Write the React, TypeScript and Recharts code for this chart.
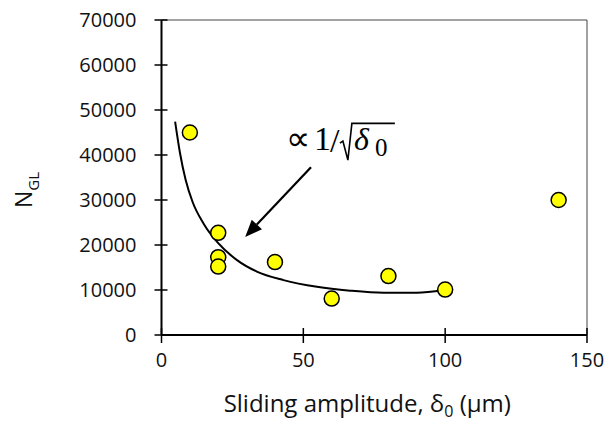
import {
  ComposedChart,
  Scatter,
  Line,
  XAxis,
  YAxis,
  ReferenceLine,
  ReferenceDot,
} from 'recharts';

// measured points
const AMPLITUDE = [10, 20, 20, 20, 40, 60, 80, 100, 140];
const CYCLES = [45000, 22700, 17300, 15200, 16200, 8100, 13100, 10100, 30000];

// fitted curve
const FIT_X = [4.8, 6.5, 8.5, 11, 14.8, 20, 26.5, 33.6, 43, 54.8, 66.5, 78.3, 90, 99.5];
const FIT_Y = [47400, 40500, 34500, 29500, 24800, 20400, 16700, 14100, 12200, 10700, 9850, 9400, 9400, 10000];

const X_TICKS = [0, 50, 100, 150];
const Y_TICKS = [0, 10000, 20000, 30000, 40000, 50000, 60000, 70000];

const points = AMPLITUDE.map((x, i) => ({ x, y: CYCLES[i] }));
const fit = FIT_X.map((x, i) => ({ x, y: FIT_Y[i] }));

const FONT = '"Open Sans", sans-serif';

const YTick = (props: any) => {
  const { x, y, payload } = props;
  return (
    <g>
      <line x1={x - 7} x2={x + 6} y1={y} y2={y} stroke="#000" strokeWidth={1.5} />
      <text x={x - 25} y={y + 7} textAnchor="end" fontFamily={FONT} fontSize={20} fill="#111">
        {payload.value}
      </text>
    </g>
  );
};

const XTick = (props: any) => {
  const { x, y, payload } = props;
  return (
    <g>
      <line x1={x} x2={x} y1={y - 7} y2={y + 8} stroke="#000" strokeWidth={1.5} />
      <text x={x} y={y + 32} textAnchor="middle" fontFamily={FONT} fontSize={20} fill="#111">
        {payload.value}
      </text>
    </g>
  );
};

const Dot = (props: any) => (
  <circle cx={props.cx} cy={props.cy} r={7.5} fill="#FFFF00" stroke="#000" strokeWidth={1.5} />
);

const Arrow = (props: any) => {
  const { x1, y1, x2, y2 } = props;
  const ang = Math.atan2(y2 - y1, x2 - x1);
  const len = 17;
  const half = 7;
  const bx = x2 - len * Math.cos(ang);
  const by = y2 - len * Math.sin(ang);
  const px = -Math.sin(ang) * half;
  const py = Math.cos(ang) * half;
  return (
    <g>
      <line x1={x1} y1={y1} x2={bx} y2={by} stroke="#000" strokeWidth={2.2} />
      <polygon points={`${x2},${y2} ${bx + px},${by + py} ${bx - px},${by - py}`} fill="#000" />
    </g>
  );
};

const Formula = (props: any) => {
  const { cx, cy } = props;
  const f = '"Liberation Serif", serif';
  return (
    <g fill="#000" fontFamily={f}>
      <text x={cx - 1} y={cy} fontSize={34}>∝</text>
      <text x={cx + 27} y={cy} fontSize={34}>1</text>
      <text x={cx + 43} y={cy + 2} fontSize={34}>/</text>
      <path
        d={`M ${cx + 53} ${cy - 7} L ${cx + 56} ${cy - 9} L ${cx + 61} ${cy + 10} L ${cx + 65} ${cy - 26.7} L ${cx + 108} ${cy - 26.7}`}
        fill="none"
        stroke="#000"
        strokeWidth={1.6}
      />
      <text x={cx + 67} y={cy} fontSize={32} fontStyle="italic">δ</text>
      <text x={cx + 88} y={cy + 6} fontSize={25}>0</text>
    </g>
  );
};

export default function App() {
  return (
    <div style={{ position: 'absolute', left: 0, top: 0, background: '#fff' }}>
      <ComposedChart
        width={608}
        height={428}
        margin={{ top: 20, right: 21, bottom: 33, left: 0 }}
      >
        <XAxis
          dataKey="x"
          type="number"
          domain={[0, 150]}
          ticks={X_TICKS}
          tickSize={0}
          tickMargin={0}
          tick={<XTick />}
          height={60}
          axisLine={{ stroke: '#000', strokeWidth: 2 }}
          allowDataOverflow
          label={{
            content: (p: any) => {
              const vb = p.viewBox;
              return (
                <text
                  x={vb.x + vb.width / 2 - 7}
                  y={vb.y + 77}
                  textAnchor="middle"
                  fontFamily={FONT}
                  fontSize={24}
                  fill="#111"
                >
                  Sliding amplitude, δ<tspan fontSize={16} dy={5}>0</tspan>
                  <tspan dy={-5}> (μm)</tspan>
                </text>
              );
            },
          }}
        />
        <YAxis
          dataKey="y"
          type="number"
          domain={[0, 70000]}
          ticks={Y_TICKS}
          tickSize={0}
          tickMargin={0}
          tick={<YTick />}
          width={161.5}
          axisLine={{ stroke: '#000', strokeWidth: 2 }}
          allowDataOverflow
          label={{
            content: () => (
              <text
                x={32}
                y={190}
                transform="rotate(-90, 32, 190)"
                textAnchor="middle"
                fontFamily={FONT}
                fontSize={23}
                fill="#111"
              >
                N<tspan fontSize={15} dy={7}>GL</tspan>
              </text>
            ),
          }}
        />
        <ReferenceLine y={70000} stroke="#444" strokeWidth={1} />
        <ReferenceLine x={150} stroke="#444" strokeWidth={1} />
        <Scatter data={points} shape={<Dot />} isAnimationActive={false} />
        <Line
          data={fit}
          dataKey="y"
          type="monotone"
          stroke="#000"
          strokeWidth={2}
          dot={false}
          activeDot={false}
          isAnimationActive={false}
        />
        <ReferenceLine
          segment={[
            { x: 52.7, y: 37300 },
            { x: 29.5, y: 21800 },
          ]}
          shape={<Arrow />}
        />
        <ReferenceDot x={44.2} y={41100} r={0} shape={<Formula />} />
      </ComposedChart>
    </div>
  );
}
